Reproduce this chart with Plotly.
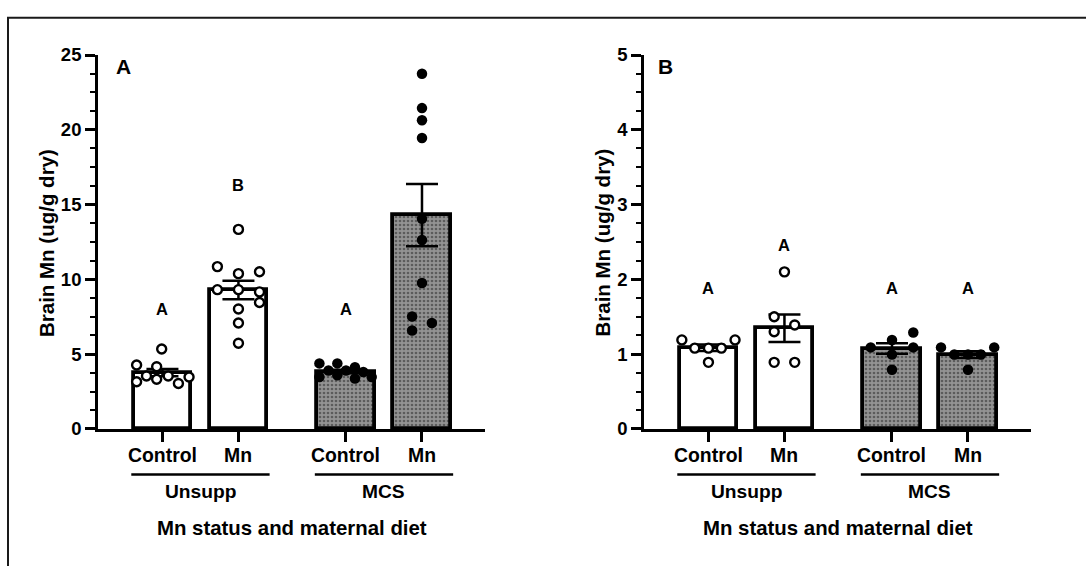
import numpy as np
import plotly.graph_objects as go

# ---- data -------------------------------------------------------------
treatments = ["Control", "Mn", "Control", "Mn"]
diets = ["Unsupp", "MCS"]
axis_title_x = "Mn status and maternal diet"
axis_title_y = "Brain Mn (ug/g dry)"
panel_names = ["A", "B"]

# Panel A: brain Mn per animal (ug/g dry)
a_unsupp_ctrl = [5.34, 4.27, 4.16, 3.54, 3.54, 3.47, 3.32, 3.15, 3.04]
a_unsupp_mn = [13.34, 10.85, 10.51, 10.38, 9.31, 9.31, 9.16, 8.45, 8.02, 7.08, 5.73]
a_mcs_ctrl = [4.38, 4.38, 4.12, 3.90, 3.90, 3.80, 3.58, 3.47, 3.47, 3.37]
a_mcs_mn = [23.75, 21.45, 20.64, 19.45, 14.05, 12.63, 9.76, 7.51, 7.08, 6.58]
a_letters = ["A", "B", "A", "C"]

# Panel B: brain Mn per animal (ug/g dry)
b_unsupp_ctrl = [1.19, 1.19, 1.08, 1.08, 1.08, 0.89]
b_unsupp_mn = [2.10, 1.50, 1.39, 1.30, 0.89, 0.89]
b_mcs_ctrl = [1.29, 1.19, 1.09, 1.09, 0.995, 0.79]
b_mcs_mn = [1.09, 0.995, 0.995, 0.995, 1.09, 0.79]
b_letters = ["A", "A", "A", "A"]

# ---- layout helpers (positions, spreads, label heights) ----------------
group_pos = [0, 1, 2.415, 3.415]
bar_width = 0.76
x_range = [-0.848, 4.244]

a_spread = [
    [-0.01, -0.34, -0.076, -0.21, 0.076, 0.35, -0.076, -0.34, 0.21],
    [0, -0.277, 0.277, 0, -0.277, 0, 0.277, 0.277, 0, 0, 0],
    [-0.35, -0.114, 0.118, -0.23, 0, 0.228, -0.114, -0.35, 0.338, 0.118],
    [0, 0, 0, 0, 0, 0, 0, -0.13, 0.13, -0.13],
]
b_spread = [
    [-0.35, 0.35, -0.18, 0, 0.17, 0],
    [0, -0.135, 0.135, -0.135, -0.135, 0.135],
    [0.28, 0, -0.28, 0.28, 0, 0],
    [-0.355, -0.18, 0, 0.17, 0.345, 0],
]
a_letter_y = [8.0, 16.3, 8.0, 25.2]
b_letter_y = [1.88, 2.46, 1.88, 1.88]

W, H = 1086, 566
FONT = "Arial, 'Liberation Sans', sans-serif"


def bold(size):
    return dict(family=FONT, size=size, color="black", weight="bold")


def px_x(p):
    return p / W


def px_y(p):
    return 1 - p / H


panels = [
    dict(groups=[a_unsupp_ctrl, a_unsupp_mn, a_mcs_ctrl, a_mcs_mn], spread=a_spread,
         letters=a_letters, letter_y=a_letter_y, xr="x", yr="y",
         dom=(98, 485), yrange=[0, 25], dtick=5, minor=1.25, ytitle_x=46, tag_x=123),
    dict(groups=[b_unsupp_ctrl, b_unsupp_mn, b_mcs_ctrl, b_mcs_mn], spread=b_spread,
         letters=b_letters, letter_y=b_letter_y, xr="x2", yr="y2",
         dom=(644, 1031), yrange=[0, 5], dtick=1, minor=0.25, ytitle_x=602.5, tag_x=665),
]

fig = go.Figure()
annotations = []
shapes = []

bar_fill_white = dict(color="white", line=dict(color="black", width=3.8))
bar_fill_dots = dict(
    color="#8c8c8c",
    line=dict(color="black", width=3.8),
    pattern=dict(shape=".", fgcolor="#262626", bgcolor="#939393", size=4, solidity=0.35),
)

for i, p in enumerate(panels):
    means = [float(np.mean(g)) for g in p["groups"]]
    sems = [float(np.std(g, ddof=1) / np.sqrt(len(g))) for g in p["groups"]]

    for d, (sl, marker) in enumerate([(slice(0, 2), bar_fill_white), (slice(2, 4), bar_fill_dots)]):
        fig.add_trace(go.Bar(
            x=group_pos[sl], y=means[sl], width=bar_width, marker=marker,
            error_y=dict(type="data", array=sems[sl], visible=True, color="black",
                         thickness=2.5, width=16),
            xaxis=p["xr"], yaxis=p["yr"], showlegend=False, hoverinfo="skip",
        ))

    for k, vals in enumerate(p["groups"]):
        xs = [group_pos[k] + o for o in p["spread"][k]]
        if k < 2:
            mk = dict(symbol="circle", size=9, color="white", line=dict(color="black", width=2.4))
        else:
            mk = dict(symbol="circle", size=10.5, color="black", line=dict(width=0))
        fig.add_trace(go.Scatter(
            x=xs, y=vals, mode="markers", marker=mk, cliponaxis=False,
            xaxis=p["xr"], yaxis=p["yr"], showlegend=False, hoverinfo="skip",
        ))

    # significance letters above bars
    for k, (txt, ly) in enumerate(zip(p["letters"], p["letter_y"])):
        annotations.append(dict(x=group_pos[k], y=ly, xref=p["xr"], yref=p["yr"], text=txt,
                                showarrow=False, font=bold(16.5),
                                xanchor="center", yanchor="middle"))

    # treatment labels under each bar
    for k, t in enumerate(treatments):
        annotations.append(dict(x=group_pos[k], y=px_y(461.5), xref=p["xr"], yref="paper", text=t,
                                showarrow=False, font=bold(19.4),
                                xanchor="center", yanchor="middle"))

    # diet group underline and label
    for d, name in enumerate(diets):
        x0 = group_pos[2 * d] - bar_width / 2 - 0.03
        x1 = group_pos[2 * d + 1] + bar_width / 2 + 0.03
        shapes.append(dict(type="line", xref=p["xr"], yref="paper", x0=x0, x1=x1,
                           y0=px_y(481.3), y1=px_y(481.3), line=dict(color="black", width=2.6)))
        annotations.append(dict(x=(group_pos[2 * d] + group_pos[2 * d + 1]) / 2, y=px_y(499),
                                xref=p["xr"], yref="paper", text=name, showarrow=False,
                                font=bold(19.2), xanchor="center", yanchor="middle"))

    # axis titles
    annotations.append(dict(x=px_x((p["dom"][0] + p["dom"][1]) / 2), y=px_y(536.7), xref="paper",
                            yref="paper", text=axis_title_x, showarrow=False,
                            font=bold(20.4), xanchor="center", yanchor="middle"))
    annotations.append(dict(x=px_x(p["ytitle_x"]), y=px_y(241), xref="paper", yref="paper",
                            text=axis_title_y, textangle=-90, showarrow=False,
                            font=bold(20.5), xanchor="center", yanchor="middle"))
    # panel tag
    annotations.append(dict(x=px_x(p["tag_x"]), y=px_y(58), xref="paper", yref="paper",
                            text=panel_names[i], showarrow=False,
                            font=bold(21), xanchor="center", yanchor="middle"))

# outer frame
shapes.append(dict(type="rect", xref="paper", yref="paper", x0=px_x(8), x1=1.05,
                   y0=-0.05, y1=px_y(7), line=dict(color="#1a1a1a", width=2)))

axis_common = dict(showline=True, linecolor="black", linewidth=2.7, showgrid=False,
                   zeroline=False, ticks="outside", tickcolor="black", tickwidth=2.5,
                   ticklen=10)

layout = dict(
    width=W, height=H, autosize=False,
    margin=dict(l=0, r=0, t=0, b=0),
    paper_bgcolor="white", plot_bgcolor="white",
    bargap=0, barmode="overlay",
    annotations=annotations, shapes=shapes,
    font=dict(family=FONT, color="black"),
)
for i, p in enumerate(panels):
    sfx = "" if i == 0 else "2"
    layout["xaxis" + sfx] = dict(
        axis_common, domain=[px_x(p["dom"][0]), px_x(p["dom"][1])], range=x_range,
        tickvals=group_pos, showticklabels=False, anchor="y" + sfx, fixedrange=True,
    )
    layout["yaxis" + sfx] = dict(
        axis_common, domain=[px_y(434), px_y(45.7)], range=p["yrange"], dtick=p["dtick"],
        tick0=0, anchor="x" + sfx, fixedrange=True, tickfont=bold(18.5),
        minor=dict(ticks="outside", ticklen=5, tickwidth=2, tickcolor="black",
                   dtick=p["minor"], tick0=0, showgrid=False),
    )

fig.update_layout(**layout)
fig.write_html("out.html", config={"displayModeBar": False})
